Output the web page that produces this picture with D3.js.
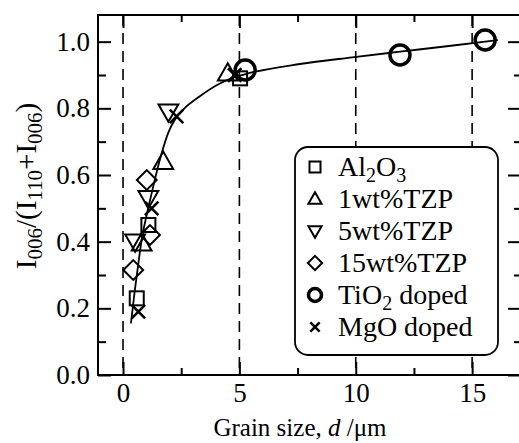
<!DOCTYPE html>
<html>
<head>
<meta charset="utf-8">
<script src="https://cdn.jsdelivr.net/npm/d3@7"></script>
<style>
  body { margin: 0; background: #fff; }
  svg { display: block; }
  text { font-family: "Liberation Serif", "Times New Roman", serif; fill: #000; }
</style>
</head>
<body>
<svg id="chart"></svg>
<script>
// chart size
const svgWidth = 519;
const svgHeight = 443;

// data (grain size in um, intensity ratio)
const al2o3 = [[0.59, 0.23], [1.09, 0.45], [5.03, 0.89]];
const tzp1 = [[0.80, 0.395], [1.73, 0.64], [4.50, 0.905]];
const tzp5 = [[0.52, 0.40], [1.09, 0.53], [1.95, 0.79]];
const tzp15 = [[0.44, 0.315], [1.16, 0.42], [1.02, 0.585]];
const tio2 = [[5.25, 0.915], [11.9, 0.96], [15.56, 1.005]];
const mgo = [[0.66, 0.19], [1.23, 0.50], [2.30, 0.776], [4.80, 0.90]];

// fitted guide curve
const fitCurve = [[0.34, 0.155], [0.5, 0.25], [0.66, 0.335], [0.8, 0.405], [1.0, 0.475],
  [1.23, 0.545], [1.45, 0.61], [1.66, 0.665], [1.95, 0.728], [2.24, 0.767], [2.6, 0.797],
  [3.3, 0.836], [4.04, 0.87], [4.73, 0.892], [5.5, 0.907], [7.6, 0.933], [9.85, 0.953],
  [11.9, 0.97], [14.0, 0.987], [16.1, 1.005]];

// ticks
const xMajor = [0, 5, 10, 15];
const xMinor = [2.5, 7.5, 12.5];
const yMajor = [0, 0.2, 0.4, 0.6, 0.8, 1.0];
const yMinor = [0.1, 0.3, 0.5, 0.7, 0.9];
const dashedAt = [0, 5, 10, 15];

const svg = d3.select("#chart")
    .attr("width", svgWidth)
    .attr("height", svgHeight);

const plot = { left: 98, right: 521, top: 15, bottom: 375 };

const x = d3.scaleLinear().domain([-1.075, 17.1]).range([plot.left, plot.right]);
const y = d3.scaleLinear().domain([0, 1.08]).range([plot.bottom, plot.top]);

// dashed verticals
svg.selectAll(".vdash")
    .data(dashedAt)
    .enter().append("line")
    .attr("x1", d => x(d)).attr("x2", d => x(d))
    .attr("y1", plot.top).attr("y2", plot.bottom)
    .attr("stroke", "#000")
    .attr("stroke-width", 1.6)
    .attr("stroke-dasharray", "11,7");

// frame
svg.append("rect")
    .attr("x", plot.left).attr("y", plot.top)
    .attr("width", plot.right - plot.left).attr("height", plot.bottom - plot.top)
    .attr("fill", "none")
    .attr("stroke", "#000")
    .attr("stroke-width", 2);

function styleAxis(g) {
    g.attr("font-family", null).attr("font-size", null);
    g.select(".domain").remove();
    g.selectAll(".tick line").attr("stroke", "#000").attr("stroke-width", 2);
    g.selectAll(".tick text")
        .attr("fill", "#000")
        .attr("font-family", "Liberation Serif, serif")
        .attr("font-size", 27);
}

// left axis (ticks inside)
svg.append("g")
    .attr("transform", `translate(${plot.left},0)`)
    .call(d3.axisLeft(y).tickValues(yMajor).tickSize(-13).tickPadding(8).tickFormat(d3.format(".1f")))
    .call(styleAxis);
svg.append("g")
    .attr("transform", `translate(${plot.left},0)`)
    .call(d3.axisLeft(y).tickValues(yMinor).tickSize(-8).tickFormat(""))
    .call(styleAxis);

// right axis (ticks inside, frame line falls just outside the picture)
svg.append("g")
    .attr("transform", `translate(${plot.right},0)`)
    .call(d3.axisRight(y).tickValues(yMajor).tickSize(-13).tickFormat(""))
    .call(styleAxis);
svg.append("g")
    .attr("transform", `translate(${plot.right},0)`)
    .call(d3.axisRight(y).tickValues(yMinor).tickSize(-7).tickFormat(""))
    .call(styleAxis);

// bottom axis
svg.append("g")
    .attr("transform", `translate(0,${plot.bottom})`)
    .call(d3.axisBottom(x).tickValues(xMajor).tickSize(-13).tickPadding(8))
    .call(styleAxis);
svg.append("g")
    .attr("transform", `translate(0,${plot.bottom})`)
    .call(d3.axisBottom(x).tickValues(xMinor).tickSize(-7).tickFormat(""))
    .call(styleAxis);

// top axis
svg.append("g")
    .attr("transform", `translate(0,${plot.top})`)
    .call(d3.axisTop(x).tickValues(xMajor).tickSize(-13).tickFormat(""))
    .call(styleAxis);
svg.append("g")
    .attr("transform", `translate(0,${plot.top})`)
    .call(d3.axisTop(x).tickValues(xMinor).tickSize(-7).tickFormat(""))
    .call(styleAxis);

// writes runs of [text, isSubscript] into a text element
function writeRuns(t, runs, subSize, shift) {
    let down = false;
    runs.forEach(r => {
        const ts = t.append("tspan").text(r[0]);
        if (r[1] && !down) { ts.attr("dy", shift); down = true; }
        else if (!r[1] && down) { ts.attr("dy", -shift); down = false; }
        if (r[1]) ts.attr("font-size", subSize);
    });
}

// axis titles
const xt = svg.append("text")
    .attr("x", 300).attr("y", 436)
    .attr("text-anchor", "middle")
    .attr("font-size", 25);
xt.append("tspan").text("Grain size, ");
xt.append("tspan").attr("font-style", "italic").text("d");
xt.append("tspan").text(" /\u03bcm");

const yt = svg.append("text")
    .attr("transform", "translate(36,186) rotate(-90)")
    .attr("text-anchor", "middle")
    .attr("font-size", 29);
writeRuns(yt, [["I", false], ["006", true], ["/(I", false], ["110", true],
    ["+I", false], ["006", true], [")", false]], 21, 6);

// fitted curve
const line = d3.line()
    .x(d => x(d[0]))
    .y(d => y(d[1]))
    .curve(d3.curveMonotoneX);

svg.append("path")
    .datum(fitCurve)
    .attr("d", line)
    .attr("fill", "none")
    .attr("stroke", "#000")
    .attr("stroke-width", 1.8);

// marker shapes
function drawMarker(g, kind, s) {
    if (kind === "square") {
        g.append("rect").attr("x", -s / 2).attr("y", -s / 2).attr("width", s).attr("height", s)
            .attr("fill", "none").attr("stroke", "#000").attr("stroke-width", 2);
    } else if (kind === "up") {
        const h = s * 0.9;
        g.append("path").attr("d", `M0,${-h * 0.62}L${s * 0.55},${h * 0.45}L${-s * 0.55},${h * 0.45}Z`)
            .attr("fill", "none").attr("stroke", "#000").attr("stroke-width", 2);
    } else if (kind === "down") {
        const h = s * 0.9;
        g.append("path").attr("d", `M0,${h * 0.62}L${s * 0.55},${-h * 0.45}L${-s * 0.55},${-h * 0.45}Z`)
            .attr("fill", "none").attr("stroke", "#000").attr("stroke-width", 2);
    } else if (kind === "diamond") {
        const r = s * 0.55;
        g.append("path").attr("d", `M0,${-r}L${r},0L0,${r}L${-r},0Z`)
            .attr("fill", "none").attr("stroke", "#000").attr("stroke-width", 2);
    } else if (kind === "circle") {
        g.append("circle").attr("r", s * 0.5)
            .attr("fill", "none").attr("stroke", "#000").attr("stroke-width", 3.5);
    } else if (kind === "cross") {
        const r = s * 0.42;
        g.append("path").attr("d", `M${-r},${-r}L${r},${r}M${r},${-r}L${-r},${r}`)
            .attr("fill", "none").attr("stroke", "#000").attr("stroke-width", 2.6);
    }
}

const seriesList = [
    { name: "Al2O3", data: al2o3, kind: "square", size: 14 },
    { name: "1wt%TZP", data: tzp1, kind: "up", size: 18 },
    { name: "5wt%TZP", data: tzp5, kind: "down", size: 18 },
    { name: "15wt%TZP", data: tzp15, kind: "diamond", size: 18 },
    { name: "TiO2 doped", data: tio2, kind: "circle", size: 20 },
    { name: "MgO doped", data: mgo, kind: "cross", size: 16 }
];

seriesList.forEach(s => {
    svg.selectAll(null)
        .data(s.data)
        .enter().append("g")
        .attr("transform", d => `translate(${x(d[0])},${y(d[1])})`)
        .each(function() { drawMarker(d3.select(this), s.kind, s.size); });
});

// legend
const lg = svg.append("g");
lg.append("rect")
    .attr("x", 295).attr("y", 147)
    .attr("width", 203).attr("height", 208)
    .attr("rx", 13).attr("ry", 13)
    .attr("fill", "#fff")
    .attr("stroke", "#000")
    .attr("stroke-width", 1.8);

const legendLabels = [
    [["Al", false], ["2", true], ["O", false], ["3", true]],
    [["1wt%TZP", false]],
    [["5wt%TZP", false]],
    [["15wt%TZP", false]],
    [["TiO", false], ["2", true], [" doped", false]],
    [["MgO doped", false]]
];
const legendSizes = [11, 12, 12, 13, 13, 11];

seriesList.forEach((s, i) => {
    const cy = 167 + i * 32;
    const mg = lg.append("g").attr("transform", `translate(315,${cy})`);
    drawMarker(mg, s.kind, legendSizes[i]);
    const t = lg.append("text")
        .attr("x", 338).attr("y", cy + 9)
        .attr("font-size", 28);
    writeRuns(t, legendLabels[i], 20, 6);
});
</script>
</body>
</html>
